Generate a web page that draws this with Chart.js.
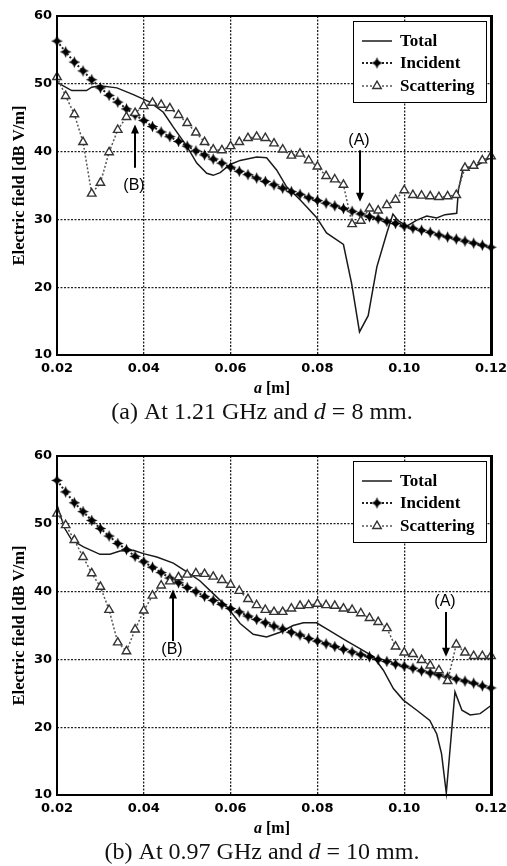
<!DOCTYPE html>
<html><head><meta charset="utf-8">
<script src="https://cdn.jsdelivr.net/npm/chart.js@4/dist/chart.umd.min.js"></script>
<style>
html,body{margin:0;padding:0;background:#fff;overflow:hidden;width:507px;height:866px;}
.wrap{position:absolute;left:0;width:507px;height:426px;}
</style></head><body>
<div class="wrap" style="top:0"><canvas id="ca" width="507" height="426"></canvas></div>
<div class="wrap" style="top:440px"><canvas id="cb" width="507" height="426"></canvas></div>
<script>
// ---------- data ----------
const aTicks = [0.02, 0.04, 0.06, 0.08, 0.10, 0.12];
const eTicks = [10, 20, 30, 40, 50, 60];
const seriesNames = ['Total', 'Incident', 'Scattering'];
const yTitle = 'Electric field [dB V/m]';

const aGrid = [0.020,0.022,0.024,0.026,0.028,0.030,0.032,0.034,0.036,0.038,
  0.040,0.042,0.044,0.046,0.048,0.050,0.052,0.054,0.056,0.058,
  0.060,0.062,0.064,0.066,0.068,0.070,0.072,0.074,0.076,0.078,
  0.080,0.082,0.084,0.086,0.088,0.090,0.092,0.094,0.096,0.098,
  0.100,0.102,0.104,0.106,0.108,0.110,0.112,0.114,0.116,0.118,0.120];

// (a) 1.21 GHz, d = 8 mm
const incidentA = [56.3,54.7,53.2,51.9,50.6,49.4,48.3,47.3,46.3,45.4,
  44.6,43.7,42.9,42.2,41.5,40.8,40.1,39.5,38.9,38.3,
  37.7,37.1,36.6,36.1,35.6,35.1,34.6,34.1,33.7,33.2,
  32.8,32.4,32.0,31.6,31.2,30.8,30.4,30.1,29.7,29.4,
  29.0,28.7,28.4,28.1,27.7,27.4,27.1,26.8,26.5,26.2,25.9];
const scatteringA = [51.0,48.2,45.5,41.4,33.8,35.4,39.9,43.2,45.1,45.7,
  46.7,47.2,46.9,46.4,45.4,44.2,42.8,41.4,40.3,40.2,
  40.8,41.4,42.0,42.2,42.0,41.2,40.3,39.4,39.7,38.7,
  37.8,36.4,35.9,35.1,29.3,29.8,31.6,31.3,32.1,32.9,
  34.3,33.6,33.5,33.4,33.3,33.4,33.6,37.6,37.9,38.7,39.3];
const totalA_a = [0.0200,0.0234,0.0268,0.0280,0.0299,0.0338,0.0376,0.0414,0.0445,0.0468,
  0.0499,0.0522,0.0545,0.0560,0.0576,0.0599,0.0622,0.0660,0.0683,0.0706,
  0.0729,0.0760,0.0798,0.0821,0.0860,0.0879,0.0897,0.0917,0.0937,0.0960,
  0.0974,0.0986,0.1006,0.1029,0.1052,0.1075,0.1094,0.1121,0.1125,0.1136,
  0.1163,0.1182,0.1200];
const totalA_E = [50.2,49.0,49.0,49.5,49.7,49.4,48.4,47.3,45.8,43.6,
  40.8,38.3,36.8,36.5,36.9,38.1,38.7,39.2,39.1,37.3,
  34.8,32.9,30.3,28.0,26.3,20.5,13.4,15.8,23.0,28.0,
  30.8,29.8,29.0,29.9,30.5,30.2,30.7,30.9,34.4,37.6,
  37.8,38.5,39.2];

// (b) 0.97 GHz, d = 10 mm
const incidentB = [56.4,54.7,53.1,51.8,50.5,49.3,48.2,47.1,46.2,45.2,
  44.4,43.6,42.8,42.0,41.3,40.6,40.0,39.3,38.7,38.1,
  37.5,37.0,36.4,35.9,35.4,34.9,34.5,34.0,33.6,33.1,
  32.7,32.3,31.9,31.5,31.1,30.7,30.4,30.0,29.7,29.3,
  29.0,28.7,28.3,28.0,27.7,27.4,27.1,26.8,26.5,26.1,25.8];
const scatteringB = [51.5,49.8,47.6,45.1,42.7,40.7,37.3,32.5,31.2,34.4,
  37.2,39.4,40.9,41.5,42.1,42.5,42.7,42.6,42.2,41.7,
  41.0,40.1,38.9,38.0,37.3,37.0,37.0,37.5,37.9,38.0,
  38.2,38.0,37.9,37.5,37.3,36.8,36.1,35.5,34.6,31.9,
  31.0,30.8,29.9,29.1,28.4,26.8,32.2,31.0,30.5,30.5,30.5];
const totalB_a = [0.0200,0.0210,0.0218,0.0234,0.0261,0.0299,0.0322,0.0345,0.0376,0.0399,
  0.0430,0.0468,0.0499,0.0529,0.0560,0.0591,0.0622,0.0652,0.0683,0.0714,
  0.0744,0.0768,0.0798,0.0829,0.0868,0.0898,0.0929,0.0952,0.0975,0.0998,
  0.1029,0.1059,0.1075,0.1086,0.1097,0.1117,0.1133,0.1152,0.1175,0.1200];
const totalB_E = [52.8,50.8,49.3,47.6,46.6,45.5,45.5,46.0,46.1,45.6,
  45.1,44.2,42.9,41.6,39.7,37.8,35.3,33.7,33.3,34.0,
  35.0,35.4,35.4,34.2,32.7,31.6,30.4,28.4,25.7,24.0,
  22.5,21.0,19.0,16.1,10.3,25.2,22.5,21.8,22.0,23.2];

// annotations (data units: a [m], field [dB V/m])
const arrowsA = [
  {label:'(A)', a:0.0898, from:40.2, to:32.6, labelE:41.6},
  {label:'(B)', a:0.0380, from:37.6, to:44.0, labelE:35.0}
];
const arrowsB = [
  {label:'(B)', a:0.0467, from:32.7, to:40.3, labelE:31.4},
  {label:'(A)', a:0.1096, from:37.0, to:30.4, labelE:38.5}
];
const captionA = ['(a) At 1.21 GHz and ', 'd', ' = 8 mm.'];
const captionB = ['(b) At 0.97 GHz and ', 'd', ' = 10 mm.'];

// ---------- drawing ----------
const SERIF = '"Liberation Serif","Times New Roman",serif';
const SANS = '"Liberation Sans",Arial,sans-serif';

// 4-point star marker used for the incident series
function makeStar() {
  const c = document.createElement('canvas');
  c.width = 13; c.height = 13;
  const g = c.getContext('2d');
  const cx = 6.5, cy = 6.5, R = 5.8, r = 2.4;
  g.fillStyle = '#000';
  g.beginPath();
  for (let k = 0; k < 8; k++) {
    const ang = -Math.PI / 2 + k * Math.PI / 4;
    const rad = k % 2 === 0 ? R : r;
    const px = cx + rad * Math.cos(ang), py = cy + rad * Math.sin(ang);
    if (k === 0) g.moveTo(px, py); else g.lineTo(px, py);
  }
  g.closePath(); g.fill();
  g.beginPath(); g.arc(cx, cy, 2.8, 0, Math.PI * 2); g.fill();
  return c;
}
const starImg = makeStar();

function drawRuns(ctx, runs, cx, cy) {
  let total = 0;
  runs.forEach(r => { ctx.font = r.font; r.w = ctx.measureText(r.text).width; total += r.w; });
  let x = cx - total / 2;
  ctx.textAlign = 'left'; ctx.textBaseline = 'middle';
  runs.forEach(r => { ctx.font = r.font; ctx.fillText(r.text, x, cy); x += r.w; });
}

function makeDecor(arrows, caption) {
  return {
    id: 'decor',
    afterDatasetsDraw(chart) {
      const {ctx, chartArea: ca, scales} = chart;
      const xs = scales.x, ys = scales.y;
      ctx.save();
      ctx.setLineDash([]);
      // frame
      ctx.strokeStyle = '#000';
      ctx.lineWidth = 2;
      ctx.strokeRect(ca.left, ca.top, ca.right - ca.left, ca.bottom - ca.top);
      ctx.lineWidth = 3;
      ctx.beginPath(); ctx.moveTo(ca.right + 0.5, ca.top - 1); ctx.lineTo(ca.right + 0.5, ca.bottom + 1); ctx.stroke();

      // arrows
      ctx.fillStyle = '#000'; ctx.strokeStyle = '#000'; ctx.lineWidth = 2;
      arrows.forEach(ar => {
        const x = Math.round(xs.getPixelForValue(ar.a));
        const y0 = ys.getPixelForValue(ar.from), y1 = ys.getPixelForValue(ar.to);
        const dir = y1 > y0 ? 1 : -1;
        ctx.beginPath(); ctx.moveTo(x, y0); ctx.lineTo(x, y1 - dir * 7); ctx.stroke();
        ctx.beginPath(); ctx.moveTo(x, y1); ctx.lineTo(x - 4, y1 - dir * 9); ctx.lineTo(x + 4, y1 - dir * 9); ctx.closePath(); ctx.fill();
        ctx.font = '16px ' + SANS; ctx.textAlign = 'center'; ctx.textBaseline = 'middle';
        ctx.fillText(ar.label, x - 1, ys.getPixelForValue(ar.labelE));
      });

      // legend
      const bw = 133, bh = 81;
      const bx = ca.right - 138, by = ca.top + 5;
      ctx.fillStyle = '#fff'; ctx.fillRect(bx, by, bw, bh);
      ctx.strokeStyle = '#000'; ctx.lineWidth = 1;
      ctx.strokeRect(bx + 0.5, by + 0.5, bw, bh);
      const rowY = [by + 20, by + 42, by + 65];
      chart.data.datasets.forEach((ds, i) => {
        const yy = rowY[i];
        const x0 = bx + 9, x1 = bx + 39;
        ctx.save();
        ctx.strokeStyle = ds.borderColor; ctx.lineWidth = ds.borderWidth;
        ctx.setLineDash(ds.borderDash || []);
        ctx.beginPath(); ctx.moveTo(x0, yy); ctx.lineTo(x1, yy); ctx.stroke();
        ctx.setLineDash([]);
        if (ds.pointRadius > 0) {
          ctx.strokeStyle = ds.pointBorderColor; ctx.fillStyle = ds.pointBackgroundColor || ds.pointBorderColor;
          ctx.lineWidth = ds.pointBorderWidth;
          Chart.helpers.drawPoint(ctx, {pointStyle: ds.pointStyle, radius: ds.pointRadius, borderWidth: ds.pointBorderWidth, rotation: 0}, (x0 + x1) / 2, yy);
        }
        ctx.restore();
        ctx.fillStyle = '#000';
        ctx.font = 'bold 17px ' + SERIF; ctx.textAlign = 'left'; ctx.textBaseline = 'middle';
        ctx.fillText(ds.label, bx + 47, yy + 1);
      });

      // x axis title
      ctx.fillStyle = '#000';
      drawRuns(ctx, [
        {text: 'a', font: 'italic bold 16px ' + SERIF},
        {text: ' [m]', font: 'bold 16px ' + SERIF}
      ], (ca.left + ca.right) / 2 - 2, ca.bottom + 34);

      // caption
      ctx.fillStyle = '#111';
      drawRuns(ctx, [
        {text: caption[0], font: '24px ' + SERIF},
        {text: caption[1], font: 'italic 24px ' + SERIF},
        {text: caption[2], font: '24px ' + SERIF}
      ], 262, ca.bottom + 58);
      ctx.restore();
    }
  };
}

function buildChart(id, incident, scattering, totA, totE, arrows, caption) {
  const datasets = [
    {label: seriesNames[0], data: totA.map((a, i) => ({x: a, y: totE[i]})),
     borderColor: '#1a1a1a', borderWidth: 1.5, pointRadius: 0, tension: 0, order: 2, clip: false},
    {label: seriesNames[1], data: aGrid.map((a, i) => ({x: a, y: incident[i]})),
     borderColor: '#222', borderWidth: 2, borderDash: [2, 2],
     pointStyle: starImg, pointRadius: 5, pointBorderWidth: 0, pointBorderColor: '#000', pointBackgroundColor: '#000',
     order: 1, clip: false},
    {label: seriesNames[2], data: aGrid.map((a, i) => ({x: a, y: scattering[i]})),
     borderColor: '#555', borderWidth: 1.5, borderDash: [2, 2],
     pointStyle: 'triangle', pointRadius: 4.9, pointBorderWidth: 1.4, pointBorderColor: '#333', pointBackgroundColor: '#fff',
     order: 0, clip: false}
  ];
  const tickFont = {family: '"DejaVu Sans", sans-serif', size: 13, weight: 'bold'};
  return new Chart(document.getElementById(id), {
    type: 'line',
    data: {datasets},
    options: {
      responsive: false, animation: false, events: [],
      layout: {padding: {top: 16, right: 16, left: 0, bottom: 0}},
      plugins: {legend: {display: false}, tooltip: {enabled: false}},
      scales: {
        x: {
          type: 'linear', min: 0.02, max: 0.12,
          afterBuildTicks: s => { s.ticks = aTicks.map(v => ({value: v})); },
          afterFit: s => { s.height = 71; s.paddingLeft = 0; s.paddingRight = 0; },
          ticks: {color: '#000', font: tickFont, padding: 6, maxRotation: 0, autoSkip: false,
                  callback: v => Number(v).toFixed(2)},
          grid: {color: '#222', lineWidth: 1.3, drawTicks: false},
          border: {display: false, dash: [2, 1.5]}
        },
        y: {
          type: 'linear', min: 10, max: 60,
          afterBuildTicks: s => { s.ticks = eTicks.map(v => ({value: v})); },
          afterFit: s => { s.width = 57; s.paddingTop = 0; s.paddingBottom = 0; },
          ticks: {color: '#000', font: tickFont, padding: 5, callback: v => String(v)},
          grid: {color: '#222', lineWidth: 1.3, drawTicks: false},
          border: {display: false, dash: [2, 1.5]},
          title: {display: true, text: yTitle, color: '#000',
                  font: {family: SERIF, size: 16.5, weight: 'bold'}, padding: {top: 10, bottom: 0}}
        }
      }
    },
    plugins: [makeDecor(arrows, caption)]
  });
}

buildChart('ca', incidentA, scatteringA, totalA_a, totalA_E, arrowsA, captionA);
buildChart('cb', incidentB, scatteringB, totalB_a, totalB_E, arrowsB, captionB);
</script>
</body></html>
